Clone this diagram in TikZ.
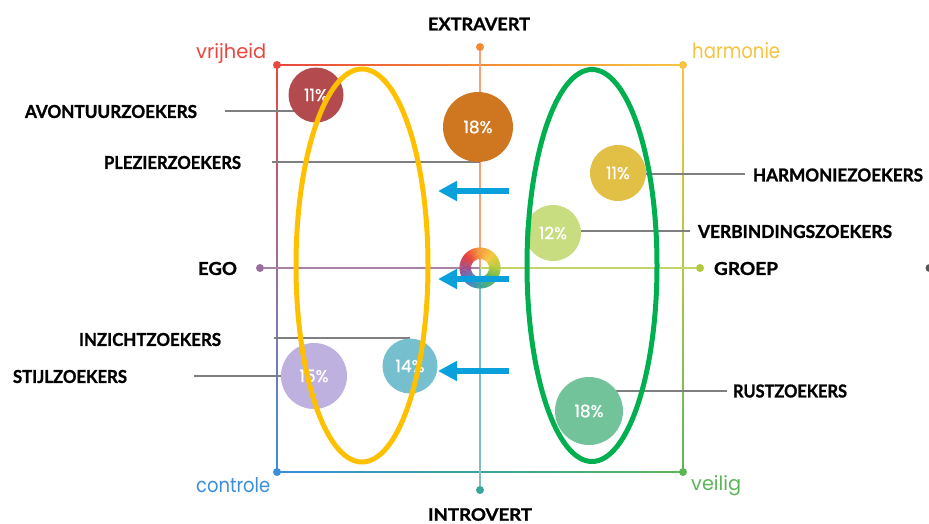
\documentclass[tikz,border=0pt]{standalone}
\usepackage{fontspec}
\setmainfont{Lato}[BoldFeatures={FakeBold=1.2}]
\newfontfamily\popp{Poppins}
\newfontfamily\poppb{Poppins}[FakeBold=0.9]
\usetikzlibrary{calc,arrows.meta}
\definecolor{cred}{HTML}{E9473F}
\definecolor{corange}{HTML}{F28B34}
\definecolor{cyellow}{HTML}{F6C342}
\definecolor{cygreen}{HTML}{B2C941}
\definecolor{cgreen}{HTML}{5DB55A}
\definecolor{cteal}{HTML}{3AA59C}
\definecolor{cblue}{HTML}{3A8EDB}
\definecolor{cpurple}{HTML}{9C6E9E}
\definecolor{axtop}{HTML}{F5A27A}
\definecolor{axbot}{HTML}{7FC0BC}
\definecolor{axleft}{HTML}{A883A5}
\definecolor{axright}{HTML}{C5D46A}
\definecolor{leadgray}{HTML}{7F7F7F}
\definecolor{arrowblue}{HTML}{0AA0DC}
\definecolor{ellyellow}{HTML}{FFC000}
\definecolor{ellgreen}{HTML}{00B050}
\definecolor{bA}{HTML}{B34A4E}
\definecolor{bB}{HTML}{CE7620}
\definecolor{bC}{HTML}{E2BF45}
\definecolor{bD}{HTML}{C8DC80}
\definecolor{bE}{HTML}{BEB0DF}
\definecolor{bF}{HTML}{76BFCF}
\definecolor{bG}{HTML}{72C29A}
\definecolor{rg0}{HTML}{B5CC3A}
\definecolor{rg1}{HTML}{F5C842}
\definecolor{rg2}{HTML}{F39A3A}
\definecolor{rg3}{HTML}{E8403A}
\definecolor{rg4}{HTML}{A0508A}
\definecolor{rg5}{HTML}{4A7EC8}
\definecolor{rg6}{HTML}{3AA59C}
\definecolor{rg7}{HTML}{5DB55A}
\definecolor{edgegray}{HTML}{555555}
\pgfdeclarelayer{bg}
\pgfsetlayers{bg,main}
\newcommand\gline[4]{%
  \foreach \k in {0,...,24}{%
    \pgfmathsetmacro\pp{100-\k*100/24}%
    \draw[gridline, #3!\pp!#4] ($#1!{\k/25}!#2$) -- ($#1!{min((\k+1.3)/25,1)}!#2$);
  }}
\begin{document}
\begin{tikzpicture}[x=1pt,y=-1pt,
  bub/.style={circle, inner sep=0, text=white, font=\poppb\fontsize{17}{17}\selectfont},
  leader/.style={draw=leadgray, line width=1.5pt},
  lab/.style={inner sep=0, text=black},
  blarrow/.style={draw=arrowblue, line width=6pt, -{Triangle[length=19pt,width=19pt]}},
  dot/.style={circle, inner sep=0, minimum size=8pt},
  ell/.style={line width=5pt},
  gridline/.style={line width=2pt},
]
\useasboundingbox (0,0) rectangle (929,523);
% corners and axis points
\coordinate (TL) at (277,65);
\coordinate (TM) at (480,65);
\coordinate (TR) at (683,65);
\coordinate (ML) at (277,268);
\coordinate (MR) at (683,268);
\coordinate (BL) at (277,472);
\coordinate (BM) at (480,472);
\coordinate (BR) at (683,472);
\coordinate (C) at (480,268);

% bubbles
\node[bub, fill=bA, minimum size=55pt] (b1) at (316,95) {11\%};
\node[bub, fill=bB, minimum size=70pt] (b2) at (478,127) {18\%};
\node[bub, fill=bC, minimum size=56pt] (b3) at (618,173) {11\%};
\node[bub, fill=bD, minimum size=56pt] (b4) at (553,233) {12\%};
\node[bub, fill=bE, minimum size=66pt] (b5) at (314,376) {15\%};
\node[bub, fill=bF, minimum size=55pt] (b6) at (410,366) {14\%};
\node[bub, fill=bG, minimum size=68pt] (b7) at (589,411) {18\%};

% axis end dots
\node[dot, fill=corange] (dtop) at (480,47) {};
\node[dot, fill=cteal] (dbot) at (480,490) {};
\node[dot, fill=cpurple] (dleft) at (260,268) {};
\node[dot, fill=cygreen] (dright) at (700,268) {};
\node[dot, fill=cred] (dTL) at (TL) {};
\node[dot, fill=cyellow] (dTR) at (TR) {};
\node[dot, fill=cblue] (dBL) at (BL) {};
\node[dot, fill=cgreen] (dBR) at (BR) {};
\node[dot, fill=edgegray] (dedge) at (929.5,268) {};

% labels
\node[lab] (lav) at (111,111.5) {\resizebox{172pt}{13pt}{\bfseries AVONTUURZOEKERS}};
\node[lab] (lpl) at (172.5,162.5) {\resizebox{137pt}{13pt}{\bfseries PLEZIERZOEKERS}};
\node[lab] (lha) at (838,175) {\resizebox{170pt}{13pt}{\bfseries HARMONIEZOEKERS}};
\node[lab] (lve) at (795,231.5) {\resizebox{194pt}{13pt}{\bfseries VERBINDINGSZOEKERS}};
\node[lab] (lin) at (150,339.5) {\resizebox{142pt}{13pt}{\bfseries INZICHTZOEKERS}};
\node[lab] (lst) at (70,376.5) {\resizebox{114pt}{13pt}{\bfseries STIJLZOEKERS}};
\node[lab] (lru) at (790,391) {\resizebox{114pt}{13pt}{\bfseries RUSTZOEKERS}};
\node[lab] (lex) at (479,24) {\resizebox{102pt}{12.5pt}{\bfseries EXTRAVERT}};
\node[lab] (lintro) at (480,514.5) {\resizebox{104pt}{12.5pt}{\bfseries INTROVERT}};
\node[lab] (lego) at (217.5,268.5) {\resizebox{39pt}{13pt}{\bfseries EGO}};
\node[lab] (lgr) at (746,268.5) {\resizebox{64pt}{13pt}{\bfseries GROEP}};
\node[inner sep=0, anchor=base west, text=cred] (tvr) at (196,58) {\resizebox{70pt}{15pt}{\popp vrijheid}};
\node[inner sep=0, anchor=base west, text=cyellow] (tha) at (692,58) {\resizebox{88pt}{16pt}{\popp harmonie}};
\node[inner sep=0, anchor=base west, text=cblue] (tco) at (196,492) {\resizebox{74pt}{15pt}{\popp controle}};
\node[inner sep=0, anchor=base west, text=cgreen] (tve) at (691,490) {\resizebox{50pt}{15pt}{\popp veilig}};

% leader line free ends
\coordinate (l1) at (225,111);
\coordinate (l2) at (272,162);
\coordinate (l3) at (745,174);
\coordinate (l4) at (690,231);
\coordinate (l5) at (274,338);
\coordinate (l6) at (194,376);
\coordinate (l7) at (727,391);

\begin{pgfonlayer}{bg}
  % box edges
  \gline{(TL)}{(TM)}{cred}{corange}
  \gline{(TM)}{(TR)}{corange}{cyellow}
  \gline{(TL)}{(ML)}{cred}{cpurple}
  \gline{(ML)}{(BL)}{cpurple}{cblue}
  \gline{(TR)}{(MR)}{cyellow}{cygreen}
  \gline{(MR)}{(BR)}{cygreen}{cgreen}
  \gline{(BL)}{(BM)}{cblue}{cteal}
  \gline{(BM)}{(BR)}{cteal}{cgreen}
  % axes
  \draw[gridline, axtop] (dtop) -- (C);
  \draw[gridline, axbot] (C) -- (dbot);
  \draw[gridline, axleft] (dleft) -- (C);
  \draw[gridline, axright] (C) -- (dright);
  % leaders
  \draw[leader] (l1) -- (l1 -| b1.center);
  \draw[leader] (l2) -- (l2 -| dtop.center);
  \draw[leader] (l3) -- (l3 -| b3.center);
  \draw[leader] (l4) -- (l4 -| b4.center);
  \draw[leader] (l5) -- (l5 -| b6.center);
  \draw[leader] (l6) -- (l6 -| b5.center);
  \draw[leader] (l7) -- (l7 -| b7.center);
\end{pgfonlayer}

% ellipses
\draw[ell, ellyellow] (362,265.5) ellipse [x radius=66, y radius=196.5];
\draw[ell, ellgreen] (592,265.5) ellipse [x radius=65, y radius=196];

% centre ring
\begin{scope}[shift={(C)}, yscale=-1]
  \foreach \ca/\cb [count=\i from 0] in {rg0/rg1,rg1/rg2,rg2/rg3,rg3/rg4,rg4/rg5,rg5/rg6,rg6/rg7,rg7/rg0}{
    \foreach \k in {0,...,8}{
      \pgfmathsetmacro\a{\i*45+\k*5}
      \pgfmathsetmacro\b{\a+5.8}
      \pgfmathsetmacro\pp{100-\k*100/9}
      \fill[\ca!\pp!\cb] (\a:9) arc[start angle=\a, end angle=\b, radius=9] -- (\b:20.5) arc[start angle=\b, end angle=\a, radius=20.5] -- cycle;
    }
  }
\end{scope}

% arrows
\coordinate (a1s) at (509,191);
\coordinate (a1e) at (438,191);
\coordinate (a2s) at (509,279);
\coordinate (a2e) at (438,279);
\coordinate (a3s) at (509,371);
\coordinate (a3e) at (438,371);
\draw[blarrow] (a1s) -- (a1e);
\draw[blarrow] (a2s) -- (a2e);
\draw[blarrow] (a3s) -- (a3e);
\end{tikzpicture}
\end{document}
